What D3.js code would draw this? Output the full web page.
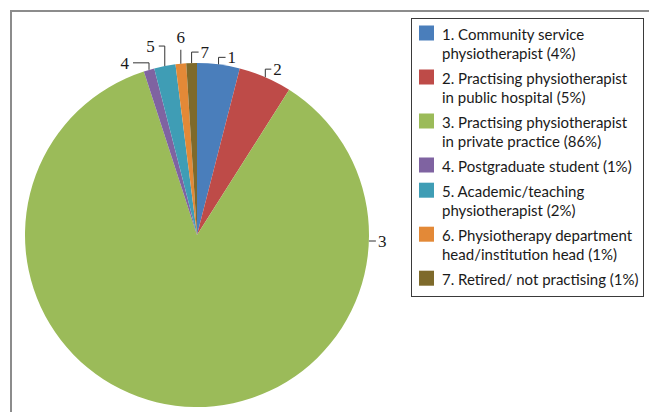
<!DOCTYPE html>
<html>
<head>
<meta charset="utf-8">
<script src="https://cdn.jsdelivr.net/npm/d3@7"></script>
<style>
  body { margin: 0; background: #fff; }
  svg { display: block; }
</style>
</head>
<body>
<script>
// Employment status of respondents (share of sample, %)
const categories = [
  "Community service\nphysiotherapist",
  "Practising physiotherapist\nin public hospital",
  "Practising physiotherapist\nin private practice",
  "Postgraduate student",
  "Academic/teaching\nphysiotherapist",
  "Physiotherapy department\nhead/institution head",
  "Retired/ not practising"
];
const percents = [4, 5, 86, 1, 2, 1, 1];
const colors = ["#4a7ebb", "#be4b48", "#9bbb59", "#7f63a1", "#3f9db5", "#e38937", "#7e6a2b"];

// Leader-line style for each slice label: which way the elbow goes and how far
const leaderDir = ["upRight", "upRight", "right", "upLeft", "upLeft", "up", "upRight"];
const leaderRise = [7, 8, 0, 7, 20, 14, 11];
const leaderRun = [7, 6, 7, 16, 6, 0, 7];
// the big slice is labelled on its right-hand side instead of at its middle
const labelAngleDeg = [null, null, 92, null, null, null, null];

const W = 649, H = 412;
const cx = 197, cy = 235, R = 172;

const svg = d3.select("body").append("svg")
  .attr("width", W).attr("height", H);

// chart-area frame
svg.append("rect")
  .attr("x", 11).attr("y", 11)
  .attr("width", W + 20).attr("height", H + 20)
  .attr("fill", "none")
  .attr("stroke", "#8c8c8c")
  .attr("stroke-width", 2);

const pie = d3.pie().sort(null).value(d => d);
const arcs = pie(percents);
const arc = d3.arc().innerRadius(0).outerRadius(R);

const g = svg.append("g").attr("transform", `translate(${cx},${cy})`);

g.selectAll("path.slice")
  .data(arcs)
  .join("path")
  .attr("class", "slice")
  .attr("d", arc)
  .attr("fill", (d, i) => colors[i]);

// slice number labels with elbow leader lines
const labels = g.append("g")
  .attr("font-family", "'Liberation Serif', 'Times New Roman', serif")
  .attr("font-size", 17)
  .attr("fill", "#1a1a1a");

arcs.forEach((d, i) => {
  const a = labelAngleDeg[i] != null ? labelAngleDeg[i] * Math.PI / 180 : (d.startAngle + d.endAngle) / 2;
  const ax = R * Math.sin(a), ay = -R * Math.cos(a);
  const dir = leaderDir[i], rise = leaderRise[i], run = leaderRun[i];
  let pts, tx, ty, anchor;
  if (dir === "upRight") {
    pts = [[ax, ay], [ax, ay - rise], [ax + run, ay - rise]];
    tx = ax + run + 2; ty = ay - rise + 6; anchor = "start";
  } else if (dir === "upLeft") {
    pts = [[ax, ay], [ax, ay - rise], [ax - run, ay - rise]];
    tx = ax - run - 4; ty = ay - rise + 6; anchor = "end";
  } else if (dir === "up") {
    pts = [[ax, ay], [ax, ay - rise]];
    tx = ax; ty = ay - rise - 6.5; anchor = "middle";
  } else {
    pts = [[ax, ay], [ax + run, ay]];
    tx = ax + run + 2; ty = ay + 6; anchor = "start";
  }
  labels.append("path")
    .attr("d", d3.line()(pts))
    .attr("fill", "none")
    .attr("stroke", "#333")
    .attr("stroke-width", 1);
  labels.append("text")
    .attr("x", tx).attr("y", ty)
    .attr("text-anchor", anchor)
    .text(i + 1);
});

// legend
const lg = svg.append("g");
lg.append("rect")
  .attr("x", 411.5).attr("y", 18.5)
  .attr("width", 232).attr("height", 278)
  .attr("fill", "#fff")
  .attr("stroke", "#3a3a3a")
  .attr("stroke-width", 1);

const lineH = 18.8, rowGap = 6.4;
let base = 40;
categories.forEach((name, i) => {
  const lines = `${i + 1}. ${name} (${percents[i]}%)`.split("\n");
  lg.append("rect")
    .attr("x", 419).attr("y", base - 14.5)
    .attr("width", 15).attr("height", 15)
    .attr("fill", colors[i]);
  const t = lg.append("text")
    .attr("x", 442).attr("y", base)
    .attr("font-family", "Lato, 'Noto Sans', sans-serif")
    .attr("font-size", 15)
    .attr("fill", "#1a1a1a");
  lines.forEach((ln, k) => {
    t.append("tspan").attr("x", 442).attr("y", base + k * lineH).text(ln);
  });
  base += lines.length * lineH + rowGap;
});
</script>
</body>
</html>
